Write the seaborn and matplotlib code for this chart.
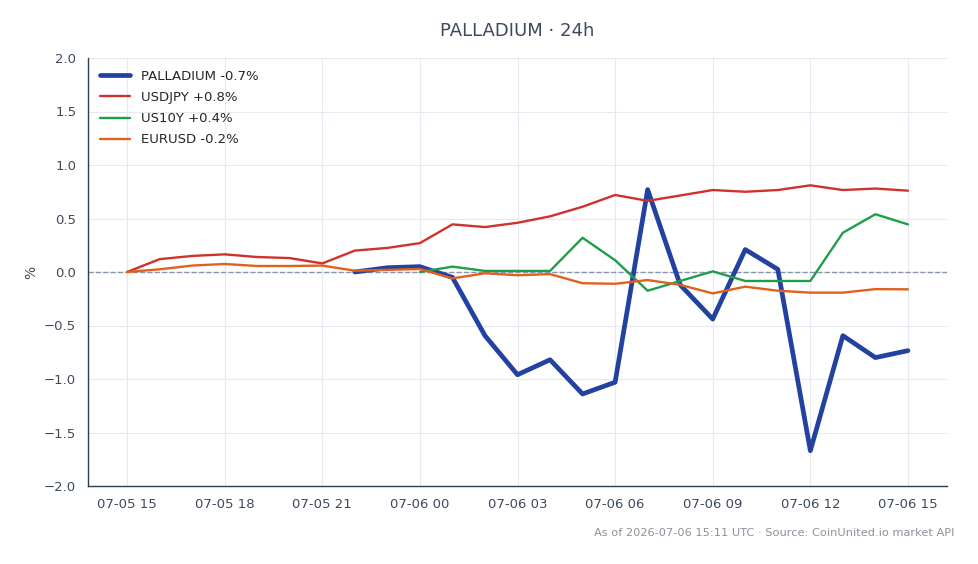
import matplotlib
matplotlib.use("Agg")
import matplotlib.pyplot as plt
import matplotlib.dates as mdates
import numpy as np
import pandas as pd
import seaborn as sns

hours = pd.date_range("2026-07-05 15:00", periods=25, freq="h")

palladium = [None] * 7 + [0.0, 0.04, 0.05, -0.05, -0.595, -0.96, -0.82, -1.14, -1.03,
                          0.77, -0.12, -0.44, 0.21, 0.025, -1.67, -0.595, -0.80, -0.735]
usdjpy = [0.0, 0.12, 0.15, 0.165, 0.14, 0.13, 0.08, 0.20, 0.225, 0.27, 0.445, 0.42, 0.46,
          0.52, 0.61, 0.72, 0.665, 0.715, 0.766, 0.75, 0.766, 0.81, 0.766, 0.78, 0.76]
us10y = [None] * 9 + [0.0, 0.05, 0.01, 0.01, 0.01, 0.32, 0.11, -0.175, -0.084, 0.006,
                      -0.084, -0.084, -0.084, 0.367, 0.54, 0.445]
eurusd = [0.0, 0.025, 0.06, 0.075, 0.056, 0.056, 0.06, 0.012, 0.02, 0.028, -0.06, -0.012,
          -0.03, -0.02, -0.105, -0.11, -0.075, -0.12, -0.20, -0.137, -0.175, -0.193,
          -0.193, -0.16, -0.162]

series_names = ["PALLADIUM", "USDJPY", "US10Y", "EURUSD"]
series_values = [palladium, usdjpy, us10y, eurusd]
series_colors = ["#2341a0", "#d0312d", "#1f9e4a", "#e0611d"]
series_widths = [3.4, 1.7, 1.7, 1.7]

sns.set_style("white")
plt.rcParams["font.family"] = ["DejaVu Sans"]

fig = plt.figure(figsize=(9.79, 5.64), dpi=100)
ax = fig.add_axes([88 / 979, 1 - 486 / 564, (947 - 88) / 979, (486 - 58) / 564])

ax.axhline(0, color="#8a96a8", linestyle="--", linewidth=1.0, zorder=1)

for name, vals, color, lw in zip(series_names, series_values, series_colors, series_widths):
    s = pd.Series(vals, index=hours, dtype=float)
    last = s.dropna().iloc[-1]
    label = f"{name} {last:+.1f}%"
    df = pd.DataFrame({"time": hours, "value": s.values})
    sns.lineplot(data=df, x="time", y="value", ax=ax, color=color, linewidth=lw,
                 label=label, zorder=3)

ax.set_ylim(-2.0, 2.0)
ax.set_yticks(np.arange(-2.0, 2.01, 0.5))
ax.set_xlim(hours[0] - pd.Timedelta(hours=1.2), hours[-1] + pd.Timedelta(hours=1.2))
ax.xaxis.set_major_locator(mdates.HourLocator(byhour=range(0, 24, 3)))
ax.xaxis.set_major_formatter(mdates.DateFormatter("%m-%d %H"))

ax.grid(True, color="#e6eaf0", linewidth=0.8)
ax.set_axisbelow(True)
for side in ["top", "right"]:
    ax.spines[side].set_visible(False)
for side in ["left", "bottom"]:
    ax.spines[side].set_color("#2c3e50")
    ax.spines[side].set_linewidth(1.0)

ax.tick_params(axis="both", colors="#2c3e50", labelcolor="#3d4a5c", labelsize=9.5,
               length=5, width=1)
ax.set_xlabel("")
ax.set_ylabel("%", color="#3d4a5c", fontsize=10)

ax.legend(loc="upper left", frameon=False, fontsize=9.5, handlelength=2.3,
          labelspacing=0.62, borderaxespad=0.5)

fig.text(0.5 * (88 + 947) / 979, 1 - 31 / 564, "PALLADIUM · 24h", ha="center", va="center",
         fontsize=13, color="#3d4a5c")
fig.text(955 / 979, 1 - 533 / 564,
         "As of 2026-07-06 15:11 UTC · Source: CoinUnited.io market API",
         ha="right", va="center", fontsize=8.2, color="#8a929c")

fig.savefig("out.png", dpi=100)
